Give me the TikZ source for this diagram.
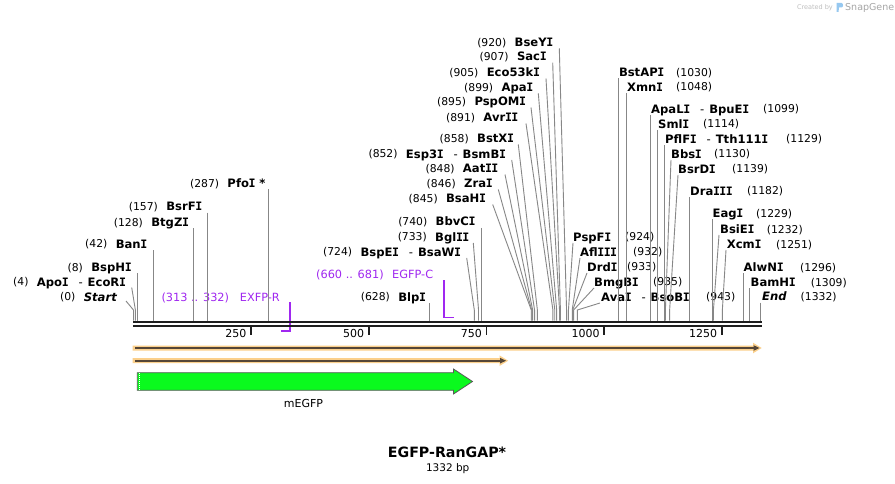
\documentclass[tikz,border=0pt]{standalone}
\usepackage{fontspec}
\setmainfont{DejaVu Sans}
\newfontfamily\monoI{DejaVu Sans Mono}
\definecolor{cutgray}{RGB}{135,135,135}
\definecolor{basek}{RGB}{30,30,30}
\definecolor{primer}{RGB}{160,40,240}
\definecolor{orangeband}{RGB}{251,208,140}
\definecolor{darkline}{RGB}{85,70,55}
\definecolor{gfp}{RGB}{10,250,30}
\definecolor{sglogo}{RGB}{150,200,240}
\newcommand\PX[1]{133.5+0.47072*#1}
\newcommand\Iv{\makebox[0.55em][c]{\monoI I}}
\newcommand\sep{\hspace{10pt}{\mdseries -}\hspace{5pt}}
% left label: id, name, name end x, y, number
\newcommand\LL[5]{%
  \node[enz,anchor=east] (n#1) at (#3,#4) {#2};
  \node[num,anchor=east] (m#1) at ([xshift=-8pt]n#1.west) {#5};}
% right label: id, name, name start x, y, number, number x
\newcommand\RL[6]{%
  \node[enz,anchor=west] (n#1) at (#3,#4) {#2};
  \node[num,anchor=west] (m#1) at (#6,#4) {#5};}
% slanted cut line: start x, start y, bp
\newcommand\SC[3]{\draw[cut] (#1,#2) -- ({\PX{#3}},310) -- ({\PX{#3}},320.5);}
% vertical cut line: top y, bp
\newcommand\VC[2]{\draw[cut] ({\PX{#2}},#1) -- ({\PX{#2}},320.5);}
\begin{document}
\begin{tikzpicture}[x=1pt,y=-1pt,
  enz/.style={inner sep=0pt,text height=8.4pt,text depth=0pt,font=\fontsize{11.6}{12}\selectfont\bfseries},
  num/.style={inner sep=0pt,text height=7.9pt,text depth=0pt,font=\fontsize{10.8}{12}\selectfont},
  plab/.style={inner sep=0pt,text height=8.2pt,text depth=0pt,text=primer,font=\fontsize{11.3}{12}\selectfont},
  ticklab/.style={inner sep=0pt,text height=8pt,text depth=0pt,font=\fontsize{11}{12}\selectfont},
  cut/.style={draw=cutgray,line width=0.9pt},
  primline/.style={draw=primer,line width=1.8pt},
  tickmark/.style={draw=basek,line width=1.6pt}]
\useasboundingbox[fill=white] (0,0) rectangle (895,484);

% ---------- primers (drawn below the backbone) ----------
\node[plab,anchor=east] (pr1) at (280,297) {EXFP-R};
\node[plab,anchor=east] (pr1n) at (229.3,297) {(313 .. 332)};
\draw[primline] ({\PX{332}},302) -- ({\PX{332}},331) -- ({\PX{313}},331);
\node[plab,anchor=west] (pr2) at (392,274) {EGFP-C};
\node[plab,anchor=west] (pr2n) at (316,274) {(660 .. 681)};
\draw[primline] ({\PX{660}},280) -- ({\PX{660}},317.5) -- ({\PX{681}},317.5);

% ---------- left-side labels ----------
\LL{st}{\itshape Start}{117}{297}{(0)}
\LL{ap}{Apo\Iv\sep EcoR\Iv}{126}{282}{(4)}
\LL{bh}{BspH\Iv}{131.7}{267.5}{(8)}
\LL{bn}{Ban\Iv}{147.3}{244}{(42)}
\LL{bz}{BtgZ\Iv}{189}{222.3}{(128)}
\LL{bf}{BsrF\Iv}{202.3}{206.7}{(157)}
\LL{pf}{Pfo\Iv{} *}{265.7}{183.3}{(287)}
\LL{bl}{Blp\Iv}{426}{297}{(628)}
\LL{be}{BspE\Iv\sep BsaW\Iv}{461}{252}{(724)}
\LL{bg}{Bgl\Iv\Iv}{469.3}{237}{(733)}
\LL{bv}{BbvC\Iv}{475.5}{221.7}{(740)}
\LL{ha}{BsaH\Iv}{486}{198.3}{(845)}
\LL{zr}{Zra\Iv}{492.7}{183.3}{(846)}
\LL{at}{Aat\Iv\Iv}{498.3}{168.3}{(848)}
\LL{es}{Esp3\Iv\sep BsmB\Iv}{506}{154}{(852)}
\LL{bx}{BstX\Iv}{514}{138.3}{(858)}
\LL{av}{Avr\Iv\Iv}{518.3}{117.3}{(891)}
\LL{po}{PspOM\Iv}{526}{101.7}{(895)}
\LL{aa}{Apa\Iv}{533.3}{87.3}{(899)}
\LL{ec}{Eco53k\Iv}{540}{72.7}{(905)}
\LL{sa}{Sac\Iv}{546.7}{56.7}{(907)}
\LL{by}{BseY\Iv}{553.3}{42.7}{(920)}

% ---------- right-side labels ----------
\RL{pspf}{PspF\Iv}{573}{237}{(924)}{625}
\RL{afl}{Afl\Iv\Iv\Iv}{580}{252}{(932)}{633}
\RL{drd}{Drd\Iv}{587}{267}{(933)}{627}
\RL{bmg}{BmgB\Iv}{594}{282}{(935)}{653}
\RL{ava}{Ava\Iv\sep BsoB\Iv}{601}{297}{(943)}{706}
\RL{bsta}{BstAP\Iv}{618.8}{72.5}{(1030)}{676}
\RL{xmn}{Xmn\Iv}{627}{87}{(1048)}{676}
\RL{apl}{ApaL\Iv\sep BpuE\Iv}{651}{109}{(1099)}{763}
\RL{sml}{Sml\Iv}{658}{124}{(1114)}{703}
\RL{pfl}{PflF\Iv\sep Tth111\Iv}{665}{139}{(1129)}{786}
\RL{bbs}{Bbs\Iv}{671}{154}{(1130)}{714}
\RL{bsr}{BsrD\Iv}{678}{169}{(1139)}{732}
\RL{dra}{Dra\Iv\Iv\Iv}{690}{191}{(1182)}{747}
\RL{eag}{Eag\Iv}{712.5}{213.3}{(1229)}{756}
\RL{bsi}{BsiE\Iv}{720}{229.3}{(1232)}{766.7}
\RL{xcm}{Xcm\Iv}{726.7}{244.3}{(1251)}{776}
\RL{alw}{AlwN\Iv}{743.5}{267.3}{(1296)}{800}
\RL{bam}{BamH\Iv}{750.5}{282.3}{(1309)}{810.7}
\RL{end}{\itshape End}{762}{296.7}{(1332)}{800.5}

% ---------- cut-site lines ----------
\SC{126}{301}{0}
\SC{131.7}{287.5}{4}
\VC{273.3}{8}
\VC{250}{42}
\VC{228.3}{128}
\VC{212.7}{157}
\VC{189.5}{287}
\VC{303}{628}
\SC{466.7}{258}{724}
\SC{473.3}{243}{733}
\VC{228}{740}
\SC{492.7}{204.5}{845}
\SC{498.3}{189.5}{846}
\SC{505}{174.5}{848}
\SC{511.7}{160}{852}
\SC{518.3}{144.5}{858}
\SC{526}{123.5}{891}
\SC{531}{107.5}{895}
\SC{538.3}{93.3}{899}
\SC{546}{78.5}{905}
\SC{552.7}{62.7}{907}
\SC{559.3}{48.5}{920}
\SC{573}{243}{924}
\SC{580}{258}{932}
\SC{587}{273}{933}
\SC{594}{288}{935}
\SC{600}{303}{943}
\VC{78.5}{1030}
\VC{93}{1048}
\VC{115}{1099}
\VC{130}{1114}
\VC{145}{1129}
\SC{671}{160}{1130}
\SC{678}{175}{1139}
\VC{197}{1182}
\VC{219.3}{1229}
\SC{719}{235}{1232}
\SC{726}{250}{1251}
\VC{273.3}{1296}
\VC{288.3}{1309}
\VC{302.7}{1332}

% ---------- backbone ----------
\draw[draw=basek,line width=2.7pt] (133,322) -- (761.5,322);
\draw[draw=basek,line width=2.7pt] (133,326) -- (761.5,326);
\foreach \t in {250,500,750,1000,1250}{
  \draw[tickmark] ({\PX{\t}},327) -- ({\PX{\t}},335);
  \node[ticklab,anchor=east] (tk\t) at ({\PX{\t}-4.5},333.3) {\t};
}

% ---------- orange feature arrows ----------
\fill[orangeband] (132.7,345.5) -- (753,345.5) -- (753,342.7) -- (761.7,348) -- (753,353.3) -- (753,350.5) -- (132.7,350.5) -- cycle;
\draw[draw=darkline,line width=1.8pt] (135,348) -- (755,348);
\fill[darkline] (753.5,345.2) -- (759.5,348) -- (753.5,350.8) -- cycle;
\fill[orangeband] (132.7,358.2) -- (499.5,358.2) -- (499.5,355.4) -- (508.2,360.7) -- (499.5,366) -- (499.5,363.2) -- (132.7,363.2) -- cycle;
\draw[draw=darkline,line width=1.8pt] (135,360.7) -- (501.5,360.7);
\fill[darkline] (500,357.9) -- (506,360.7) -- (500,363.5) -- cycle;

% ---------- mEGFP feature ----------
\draw[draw=black!65,line width=0.8pt,fill=gfp] (137.3,372.7) -- (453.5,372.7) -- (453.5,369) -- (472.5,381.5) -- (453.5,394) -- (453.5,390.3) -- (137.3,390.3) -- cycle;
\draw[draw=white,dash pattern=on 1pt off 1pt,line width=0.7pt] (139.6,373.3) -- (139.6,389.7);
\node[inner sep=0pt,font=\fontsize{11}{12}\selectfont] (megfp) at (303.5,403) {mEGFP};

% ---------- title ----------
\node[inner sep=0pt,font=\fontsize{14.2}{16}\selectfont\bfseries] (title) at (447,452.5) {EGFP-RanGAP*};
\node[inner sep=0pt,font=\fontsize{10.5}{12}\selectfont] (size) at (447.7,468.3) {1332 bp};

% ---------- SnapGene credit ----------
\node[inner sep=0pt,anchor=east,text=black!25,font=\fontsize{6.5}{8}\selectfont] (cred) at (833,7.5) {Created by};
\fill[sglogo] (836.5,3) -- (841.5,3) .. controls (843.5,3) and (843.5,7.5) .. (841.5,7.5) -- (839,7.5) -- (838.5,12) -- (836.5,12) -- cycle;
\node[inner sep=0pt,anchor=west,text=black!35,font=\fontsize{9.5}{10}\selectfont] (sg) at (845,7.5) {SnapGene};
\end{tikzpicture}
\end{document}
